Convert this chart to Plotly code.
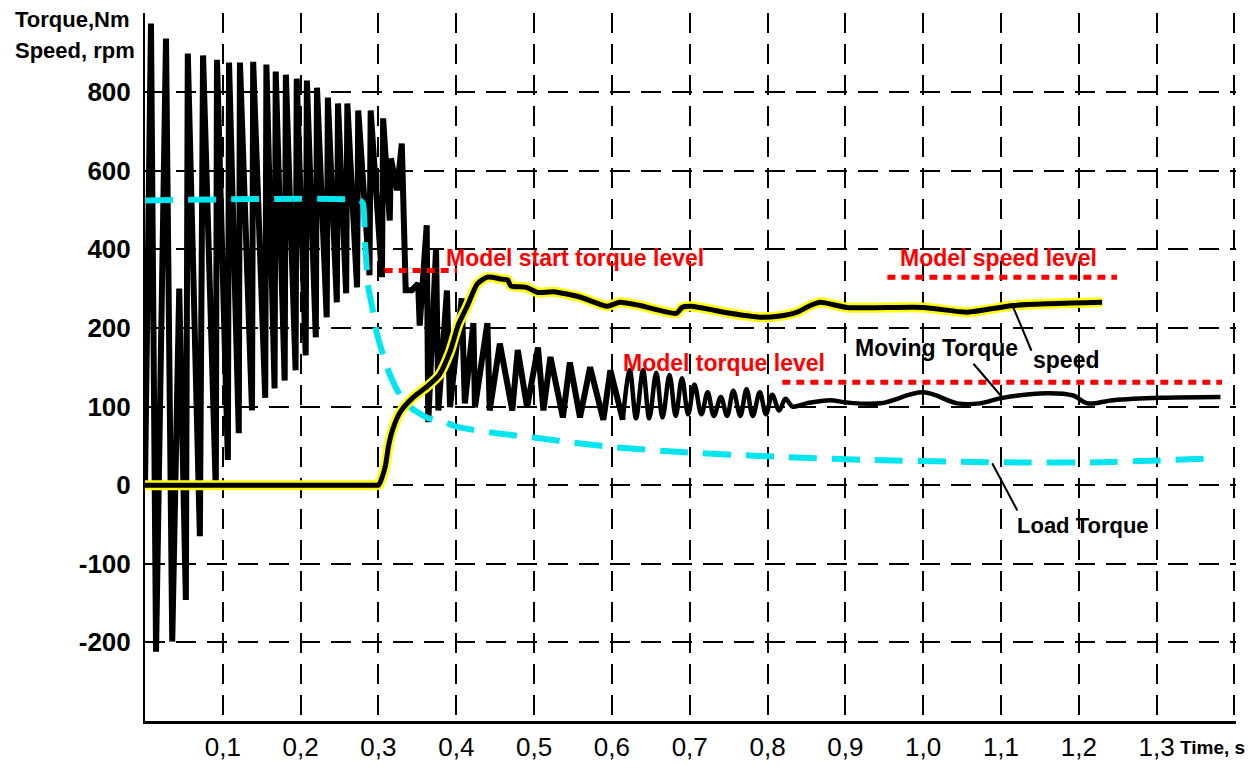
import plotly.graph_objects as go

# ---------------- data (time in s, values in Nm / rpm) ----------------
# Moving torque, spiky start-up part (trough / peak vertices)
torque_t = [0.000, 0.0077, 0.0142, 0.027, 0.035, 0.044, 0.0525, 0.055, 0.0705, 0.0746,
            0.091, 0.0925, 0.1065, 0.108, 0.1205, 0.122, 0.1375, 0.139, 0.1545, 0.156,
            0.1665, 0.168, 0.1795, 0.181, 0.1935, 0.195, 0.2065, 0.208, 0.2195, 0.221,
            0.2335, 0.235, 0.2465, 0.248, 0.2585, 0.260, 0.2725, 0.274, 0.2885, 0.290,
            0.3045, 0.306, 0.3145, 0.316, 0.324, 0.330, 0.335, 0.343, 0.351, 0.353,
            0.362, 0.364, 0.374, 0.377, 0.388, 0.392, 0.407, 0.411, 0.422, 0.424,
            0.440, 0.443, 0.456, 0.472, 0.479, 0.491, 0.505, 0.512, 0.521, 0.537,
            0.546, 0.559, 0.572, 0.589, 0.598, 0.614]
torque_v = [0, 974, -212, 936, -199, 300, -146, 898, -65, 893,
            -6, 882, 32, 875, 66, 875, 95, 877, 111, 870,
            123, 852, 133, 844, 146, 834, 165, 829, 188, 811,
            227, 786, 265, 771, 288, 771, 303, 753, 334, 753,
            329, 733, 473, 631, 550, 669, 296, 296, 313, 206,
            461, 80, 402, 95, 295, 99, 275, 104, 212, 99,
            212, 95, 180, 95, 172, 99, 175, 95, 163, 86,
            156, 86, 150, 83, 146, 83]

# Moving torque, smooth oscillating tail
osc_t = [0.614, 0.623, 0.631, 0.640, 0.648, 0.657, 0.665, 0.674, 0.682, 0.690,
         0.698, 0.706, 0.715, 0.723, 0.731, 0.740, 0.748, 0.756, 0.765, 0.773,
         0.781, 0.790, 0.798, 0.806, 0.815, 0.823, 0.832, 0.850, 0.880, 0.902,
         0.945, 1.000, 1.044, 1.073, 1.102, 1.159, 1.193, 1.211, 1.244, 1.305,
         1.382]
osc_v = [83, 146, 85, 146, 85, 143, 86, 140, 88, 136,
         90, 128, 90, 118, 88, 112, 88, 120, 88, 122,
         88, 118, 90, 115, 95, 110, 100, 104, 108, 105,
         104, 118, 104, 104, 111, 117, 114, 104, 108, 111,
         112]

# Speed, rpm
speed_t = [0, 0.150, 0.295, 0.300, 0.304, 0.309, 0.313, 0.318, 0.328, 0.345, 0.362, 0.378,
           0.392, 0.403, 0.414, 0.427, 0.440, 0.458, 0.466, 0.470, 0.490, 0.505,
           0.525, 0.560, 0.594, 0.610, 0.636, 0.683, 0.690, 0.702, 0.752, 0.790,
           0.816, 0.838, 0.855, 0.868, 0.902, 1.000, 1.057, 1.116, 1.230]
speed_v = [0, 0, 0, 0, 8, 25, 50, 70, 93, 112, 125, 140,
           170, 210, 255, 312, 329, 324, 322, 307, 303, 290,
           292, 278, 255, 265, 257, 237, 252, 255, 237, 227,
           230, 240, 257, 265, 252, 252, 240, 257, 265]

# Load torque, Nm
load_t = [0, 0.276, 0.280, 0.283, 0.287, 0.292, 0.298, 0.311, 0.324, 0.332,
          0.341, 0.362, 0.388, 0.401, 0.452, 0.504, 0.559, 0.607, 0.688, 0.816,
          0.932, 1.099, 1.227, 1.292, 1.373]
load_v = [524, 524, 517, 410, 303, 252, 193, 150, 121, 108,
          99, 86, 79, 74, 66, 60, 53, 48, 42, 36,
          32, 29, 29, 31, 34]

# Model reference levels
level_start = [0.308, 0.819, 0.954]
level_end = [0.401, 1.384, 1.249]
level_value = [346, 131, 329]

# Axis ticks
x_tick_vals = [0.1, 0.2, 0.3, 0.4, 0.5, 0.6, 0.7, 0.8, 0.9, 1.0, 1.1, 1.2, 1.3, 1.4]
x_tick_text = ["0,1", "0,2", "0,3", "0,4", "0,5", "0,6", "0,7", "0,8", "0,9",
               "1,0", "1,1", "1,2", "1,3", ""]
y_tick_values = [1000, 800, 600, 400, 200, 100, 0, -100, -200]
y_tick_text = ["", "800", "600", "400", "200", "100", "0", "-100", "-200"]


# The original axis is piecewise: 100 units per grid step below 200, 200 above.
def axis_pos(v):
    return v / 100.0 if v <= 200 else 2.0 + (v - 200) / 200.0


def mapped(vals):
    return [axis_pos(v) for v in vals]


fig = go.Figure()

fig.add_trace(go.Scatter(x=torque_t, y=mapped(torque_v), mode="lines",
                         line=dict(color="black", width=6), hoverinfo="skip"))
fig.add_trace(go.Scatter(x=osc_t, y=mapped(osc_v), mode="lines",
                         line=dict(color="black", width=4.5, shape="spline", smoothing=1.0),
                         hoverinfo="skip"))
fig.add_trace(go.Scatter(x=load_t, y=mapped(load_v), mode="lines",
                         line=dict(color="#00E5EE", width=6, dash="28px,15px",
                                   shape="spline", smoothing=0.6),
                         hoverinfo="skip"))
fig.add_trace(go.Scatter(x=speed_t, y=mapped(speed_v), mode="lines",
                         line=dict(color="#FFFF00", width=10, shape="spline", smoothing=0.6),
                         hoverinfo="skip"))
fig.add_trace(go.Scatter(x=speed_t, y=mapped(speed_v), mode="lines",
                         line=dict(color="black", width=5, shape="spline", smoothing=0.6),
                         hoverinfo="skip"))
for t0, t1, val in zip(level_start, level_end, level_value):
    fig.add_trace(go.Scatter(x=[t0, t1], y=[axis_pos(val)] * 2, mode="lines",
                             line=dict(color="#FF0000", width=5, dash="8px,6px"),
                             hoverinfo="skip"))

red_font = dict(family="Liberation Sans, Arial, sans-serif", size=23, color="#FF0000", weight="bold")
blk_font = dict(family="Liberation Sans, Arial, sans-serif", size=23, color="black", weight="bold")

annotations = [
    dict(x=0.552, y=2.884, text="Model start torque level", font=red_font),
    dict(x=0.7436, y=1.55, text="Model torque level", font=red_font),
    dict(x=1.0964, y=2.884, text="Model speed level", font=red_font),
    dict(x=1.0173, y=1.741, text="Moving Torque", font=blk_font),
    dict(x=1.1832, y=1.588, text="speed", font=blk_font),
    dict(x=1.205, y=-0.508, text="Load Torque", font=dict(blk_font, size=22)),
]
for a in annotations:
    a.update(xref="x", yref="y", showarrow=False, xanchor="center", yanchor="middle")

# leader lines
leaders = [
    (1.1015, 1.118, 1.063, 1.563),
    (1.1157, 2.262, 1.140, 1.69),
    (1.0887, 0.2795, 1.1221, -0.343),
]
for x, y, ax, ay in leaders:
    annotations.append(dict(x=x, y=y, ax=ax, ay=ay, xref="x", yref="y",
                            axref="x", ayref="y", text="", showarrow=True,
                            arrowhead=0, arrowwidth=2, arrowcolor="black"))

title_font = dict(family="Liberation Sans, Arial, sans-serif", size=22, color="black", weight="bold")
annotations += [
    dict(x=-0.1212, y=0.9915, xref="paper", yref="paper", text="Torque,Nm",
         showarrow=False, xanchor="left", yanchor="middle", font=title_font),
    dict(x=-0.1212, y=0.9477, xref="paper", yref="paper", text="Speed, rpm",
         showarrow=False, xanchor="left", yanchor="middle", font=title_font),
    dict(x=1.327, y=-0.038, xref="x", yref="paper", text="Time, s",
         showarrow=False, xanchor="left", yanchor="middle",
         font=dict(family="Liberation Sans, Arial", size=19, color="black", weight="bold")),
]

fig.update_layout(
    width=1246, height=762,
    margin=dict(l=137, r=18, t=5, b=49),
    paper_bgcolor="white", plot_bgcolor="white",
    showlegend=False,
    annotations=annotations,
    xaxis=dict(range=[0, 1.402], tickmode="array", tickvals=x_tick_vals,
               ticktext=x_tick_text, showgrid=True, gridcolor="black", gridwidth=2,
               griddash="20px,11px", zeroline=False, showline=True, linecolor="black",
               linewidth=2.5, ticks="", automargin=False, ticklabelstandoff=1,
               tickfont=dict(family="Liberation Sans, Arial, sans-serif", size=26, color="black")),
    yaxis=dict(range=[-3, 6.005], tickmode="array", tickvals=mapped(y_tick_values),
               ticktext=y_tick_text, showgrid=True, gridcolor="black", gridwidth=2,
               griddash="20px,11px", zeroline=False, showline=True, linecolor="black",
               linewidth=2, ticks="", automargin=False, ticklabelstandoff=7,
               tickfont=dict(family="Liberation Sans, Arial, sans-serif", size=26,
                             color="black", weight="bold")),
)

fig.write_html("out.html")
